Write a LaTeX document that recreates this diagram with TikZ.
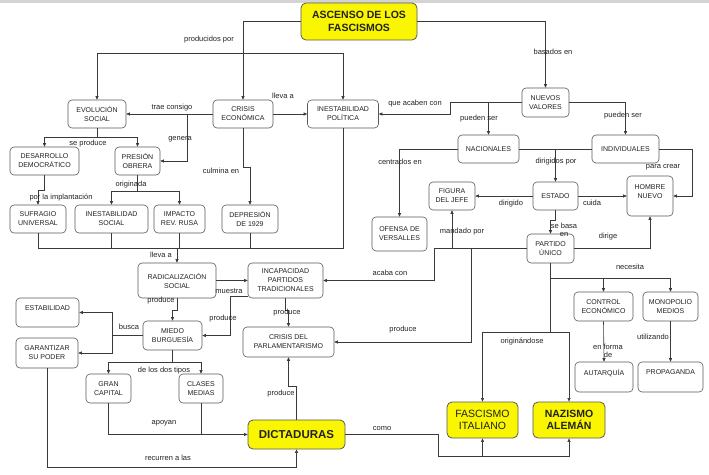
\documentclass[tikz,border=0pt]{standalone}
\usepackage{fontspec}
\setmainfont{Liberation Sans}
\usetikzlibrary{arrows.meta}
\definecolor{boxc}{HTML}{5A5A5A}
\definecolor{linec}{HTML}{3A3A3A}
\definecolor{textc}{HTML}{222222}
\definecolor{yel}{HTML}{FAF500}
\begin{document}
\begin{tikzpicture}[x=1pt,y=-1pt,
  box/.style={draw=boxc, rounded corners=4pt, fill=white, align=center, inner sep=1pt,
    font=\fontsize{7}{9}\selectfont, text=textc, line width=0.6pt},
  ybox/.style={box, fill=yel, draw=boxc, line width=0.8pt, rounded corners=5pt},
  sz/.style 2 args={minimum width=#1pt, minimum height=#2pt},
  lab/.style={font=\fontsize{7.5}{8.5}\selectfont, text=textc, inner sep=0pt, align=center},
  line/.style={draw=linec, line width=0.6pt},
  arr/.style={line, -{Triangle[length=3.5pt,width=3pt]}}
]
\useasboundingbox (0,0) rectangle (709,474);
\fill[white] (0,0) rectangle (709,474);
\fill[black!17] (0,0) rectangle (709,3);

% ---------- nodes ----------
\node[ybox, sz={116}{37}, font=\fontsize{10.5}{13}\selectfont\bfseries] (title) at (359,21.5) {ASCENSO DE LOS\\FASCISMOS};
\node[box, sz={58}{28}] (evol) at (97,114) {EVOLUCIÓN\\SOCIAL};
\node[box, sz={60}{28}] (crisis) at (243,114) {CRISIS\\ECONÓMICA};
\node[box, sz={71}{28}] (inpol) at (343,114) {INESTABILIDAD\\POLÍTICA};
\node[box, sz={47}{29}] (nuevos) at (545.5,102.5) {NUEVOS\\VALORES};
\node[box, sz={69}{28}] (desa) at (44.5,161) {DESARROLLO\\DEMOCRÁTICO};
\node[box, sz={45}{28}] (presion) at (137.5,161) {PRESIÓN\\OBRERA};
\node[box, sz={56}{28}] (sufragio) at (38,219) {SUFRAGIO\\UNIVERSAL};
\node[box, sz={73}{28}] (insoc) at (111.5,219) {INESTABILIDAD\\SOCIAL};
\node[box, sz={51}{28}] (impacto) at (179.5,219) {IMPACTO\\REV. RUSA};
\node[box, sz={56}{28}] (depresion) at (250,219) {DEPRESIÓN\\DE 1929};
\node[box, sz={61}{28}] (nacionales) at (488.5,149) {NACIONALES};
\node[box, sz={67}{28}] (individuales) at (625.5,149) {INDIVIDUALES};
\node[box, sz={46}{28}] (figura) at (452,196) {FIGURA\\DEL JEFE};
\node[box, sz={45}{28}] (estado) at (555.5,196) {ESTADO};
\node[box, sz={46}{40}] (hombre) at (650,196) {HOMBRE\\NUEVO\\\mbox{}};
\node[box, sz={55}{34}] (ofensa) at (399.5,234) {OFENSA DE\\VERSALLES};
\node[box, sz={47}{29}] (partido) at (550.5,248.5) {PARTIDO\\ÚNICO};
\node[box, sz={78}{35}] (radical) at (177,280.5) {RADICALIZACIÓN\\SOCIAL};
\node[box, sz={75}{35}] (incap) at (285.5,280.5) {INCAPACIDAD\\PARTIDOS\\TRADICIONALES};
\node[box, sz={63}{29}] (estab) at (47.5,312.5) {ESTABILIDAD\\\mbox{}};
\node[box, sz={59}{29}] (miedo) at (172.5,335.5) {MIEDO\\BURGUESÍA};
\node[box, sz={62}{30}] (garant) at (47,353) {GARANTIZAR\\SU PODER};
\node[box, sz={91}{30}] (crisparl) at (288.5,342) {CRISIS DEL\\PARLAMENTARISMO};
\node[box, sz={59}{29}] (control) at (603.5,306.5) {CONTROL\\ECONÓMICO};
\node[box, sz={55}{29}] (monopolio) at (670.5,306.5) {MONOPOLIO\\MEDIOS};
\node[box, sz={45}{29}] (gran) at (108.5,388.5) {GRAN\\CAPITAL};
\node[box, sz={44}{29}] (clases) at (201,388.5) {CLASES\\MEDIAS};
\node[box, sz={58}{30}] (autarquia) at (604,377) {AUTARQUÍA\\\mbox{}};
\node[box, sz={65}{30}] (propaganda) at (670.5,377) {PROPAGANDA\\\mbox{}};
\node[ybox, sz={97}{29}, font=\fontsize{11.5}{13}\selectfont\bfseries] (dict) at (296.5,434.5) {DICTADURAS};
\node[ybox, sz={71}{36}, font=\fontsize{10.5}{12.5}\selectfont] (fascismo) at (482.5,420) {FASCISMO\\ITALIANO};
\node[ybox, sz={72}{36}, font=\fontsize{10.5}{12.5}\selectfont\bfseries] (nazismo) at (569,420) {NAZISMO\\ALEMÁN};

% ---------- coordinates ----------
\coordinate (pj) at (243,53);
\coordinate (gj) at (187,114);
\coordinate (cm) at (243,167);
\coordinate (sp) at (97,137);
\coordinate (pi) at (44.5,190);
\coordinate (or) at (137.5,191);
\coordinate (ll) at (177,248);
\coordinate (ip) at (230,296);
\coordinate (bj) at (112,335.5);
\coordinate (dj) at (172.5,362);
\coordinate (rj) at (47,467);
\coordinate (cj) at (438,456);
\coordinate (qj) at (450,102.5);
\coordinate (pc) at (692,149);
\coordinate (mj) at (434,248.5);
\coordinate (pj2) at (471,248.5);
\coordinate (oj) at (550.5,332);
\coordinate (nj) at (550.5,278);

% ---------- connectors ----------
\draw[line] (title.west) -| (pj);
\draw[arr] (pj) -- (crisis.north);
\draw[arr] (pj) -| (evol.north);
\draw[arr] (pj) -| (inpol.north);
\node[lab] (l1) at (209,40) {producidos por};

\draw[arr] (title.east) -| (nuevos.north);
\node[lab] (l2) at (553,52) {basados en};

\draw[arr] (crisis.west) -- (evol.east);
\node[lab] (l3) at (172,108) {trae consigo};
\draw[arr] (gj) |- (presion.east);
\node[lab] (l4) at (180,139) {genera};

\draw[arr] (crisis.east) -- (inpol.west);
\node[lab] (l5) at (283,96) {lleva a};

\draw[arr] (crisis.south) -- (cm) -| (depresion.north);
\node[lab] (l6) at (221,171) {culmina en};

\draw[line] (evol.south) -- (sp);
\draw[arr] (sp) -| (desa.north);
\draw[arr] (sp) -| (presion.north);
\node[lab] (l7) at (88,144) {se produce};

\draw[arr] (desa.south) -- (pi) -| (sufragio.north);
\node[lab] (l8) at (61,198) {por la implantación};

\draw[line] (presion.south) -- (or);
\draw[arr] (or) -| (insoc.north);
\draw[arr] (or) -| (impacto.north);
\node[lab] (l9) at (131,185) {originada};

\draw[line] (sufragio.south) |- (ll);
\draw[line] (insoc.south) -- (insoc.south |- ll);
\draw[line] (impacto.south) -- (impacto.south |- ll);
\draw[line] (depresion.south) -- (depresion.south |- ll);
\draw[line] (inpol.south) |- (ll);
\draw[arr] (ll) -- (radical.north);
\node[lab] (l10) at (161,255) {lleva a};

\draw[arr] (radical.east) -- (incap.west);
\node[lab] (l11) at (229,291) {muestra};

\draw[arr] (radical.south) -- ++(0,12) -| (miedo.north);
\node[lab] (l12) at (161,301) {produce};

\draw[arr] (incap.west |- ip) -- (ip) |- (miedo.east);
\node[lab] (l13) at (223,319) {produce};

\draw[arr] (incap.south) -- ++(0,12) -| (crisparl.north);
\node[lab] (l14) at (287,313) {produce};

\draw[line] (miedo.west) -- (bj);
\draw[arr] (bj) |- (estab.east);
\draw[arr] (bj) |- (garant.east);
\node[lab] (l15) at (129,327) {busca};

\draw[line] (miedo.south) -- (dj);
\draw[arr] (dj) -| (gran.north);
\draw[arr] (dj) -| (clases.north);
\node[lab] (l16) at (164,371) {de los dos tipos};

\draw[arr] (gran.south) |- (dict.west);
\draw[line] (clases.south) -- (clases.south |- dict.west);
\node[lab] (l17) at (164,423) {apoyan};

\draw[arr] (garant.south) -- (rj) -| (dict.south);
\node[lab] (l18) at (168,458) {recurren a las};

\draw[arr] (dict.north) -- ++(0,-33) -| (crisparl.south);
\node[lab] (l19) at (281,394) {produce};

\draw[line] (dict.east) -| (cj);
\draw[arr] (cj) -| (fascismo.south);
\draw[arr] (cj) -| (nazismo.south);
\node[lab] (l20) at (382,429) {como};

\draw[line] (nuevos.west) -- (qj);
\draw[arr] (qj) |- (inpol.east);
\node[lab] (l21) at (415,104) {que acaben con};
\draw[arr] (nacionales.north |- nuevos.west) -- (nacionales.north);
\node[lab] (l22) at (479,119) {pueden ser};

\draw[arr] (nuevos.east) -| (individuales.north);
\node[lab] (l23) at (623,116) {pueden ser};

\draw[arr] (nacionales.west) -| (ofensa.north);
\node[lab] (l24) at (400,162) {centrados en};

\draw[line] (nacionales.east) -- (individuales.west);
\draw[arr] (estado.north |- nacionales.east) -- (estado.north);
\node[lab] (l25) at (556,162) {dirigidos por};

\draw[arr] (individuales.east) -- (pc) |- (hombre.east);
\node[lab] (l26) at (663,167) {para crear};

\draw[arr] (estado.west) -- (figura.east);
\node[lab] (l27) at (511,204) {dirigido};
\draw[arr] (estado.east) -- (hombre.west);
\node[lab] (l28) at (592,203) {cuida};

\draw[arr] (estado.south) -- ++(0,10) -| (partido.north);
\node[lab] (l29) at (564,230) {se basa\\en};

\draw[arr] (partido.east) -| (hombre.south);
\node[lab] (l30) at (608,237) {dirige};

\draw[line] (partido.west) -- (mj);
\draw[arr] (figura.south |- mj) -- (figura.south);
\draw[arr] (mj) |- (incap.east);
\draw[arr] (pj2) |- (crisparl.east);
\node[lab] (l31) at (462,232) {mandado por};
\node[lab] (l32) at (390,273) {acaba con};
\node[lab] (l33) at (403,330) {produce};

\draw[line] (partido.south) -- (oj);
\draw[arr] (oj) -| (fascismo.north);
\draw[arr] (oj) -| (nazismo.north);
\node[lab] (l34) at (522,342) {originándose};

\draw[arr] (nj) -| (control.north);
\draw[arr] (nj) -| (monopolio.north);
\node[lab] (l35) at (630,267) {necesita};

\draw[arr] (control.south) -- (autarquia.north);
\node[lab] (l36) at (608,351) {en forma\\de};

\draw[arr] (monopolio.south) -- (propaganda.north);
\node[lab] (l37) at (653,337) {utilizando};
\end{tikzpicture}
\end{document}
